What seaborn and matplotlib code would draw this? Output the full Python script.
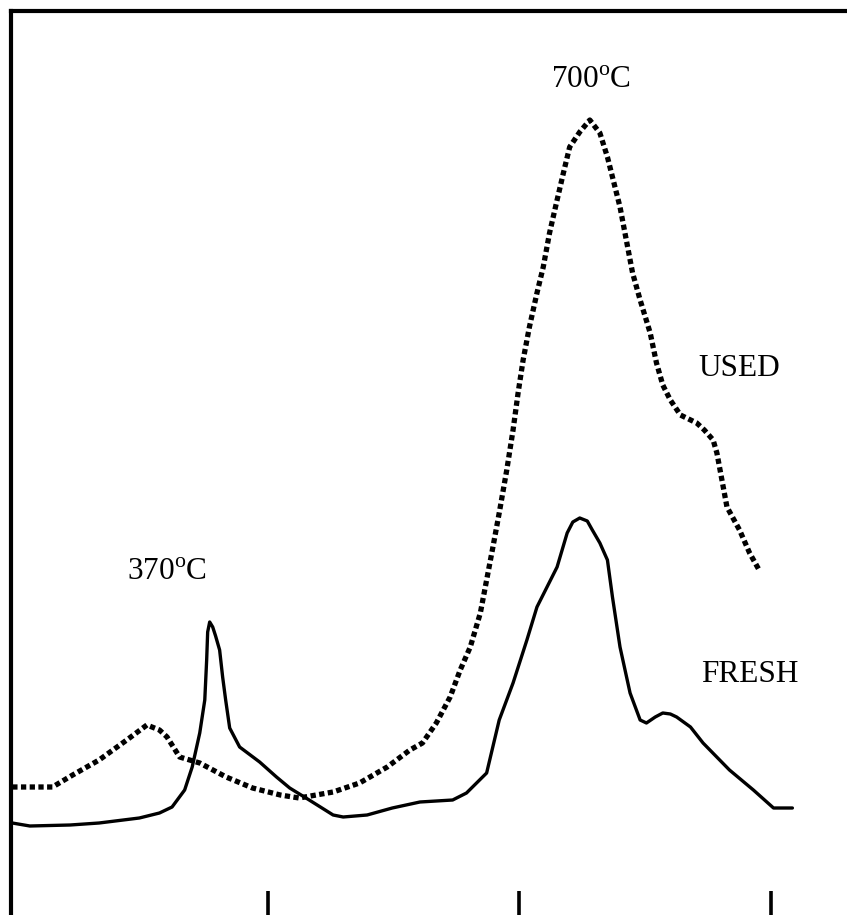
import numpy as np
import pandas as pd
import matplotlib
matplotlib.use("Agg")
import matplotlib.pyplot as plt
import seaborn as sns

# TPR-like profiles, fresh vs used sample
used_temp = [197, 229, 245, 266, 288, 304, 314, 320, 330, 346,
             367, 388, 410, 425, 452, 473, 495, 513, 523, 534,
             545, 553, 561, 569, 574, 579, 584, 590, 595, 599,
             603, 608, 614, 619, 624, 630, 635, 640, 648, 656,
             664, 670, 674, 680, 685, 690, 696, 704, 709, 714,
             720, 728, 741, 747, 754, 757, 761, 765, 775, 783,
             791]
used_signal = [128, 128, 140, 155, 175, 190, 185, 178, 158, 152,
               138, 127, 120, 117, 123, 132, 148, 165, 172, 192,
               218, 245, 268, 302, 335, 368, 402, 445, 485, 522,
               555, 588, 622, 648, 682, 715, 742, 768, 783, 795,
               782, 758, 738, 708, 675, 642, 615, 582, 552, 530,
               515, 500, 492, 485, 475, 462, 435, 408, 385, 362,
               344]

fresh_temp = [197, 211, 243, 266, 298, 314, 324, 334, 340, 346,
              350, 351.5, 352.3, 353.9, 356.3, 358.6, 361.8, 364.2, 366.6, 369.8,
              377.7, 393.6, 407, 417.5, 433, 452, 460, 479, 499, 521,
              547, 558, 574, 584, 595, 606, 614, 622, 630, 638,
              642.5, 648, 654, 658, 664, 670, 674, 680, 688, 696,
              701, 708, 714, 720, 725, 736, 746, 767, 786, 802,
              817]
fresh_signal = [92, 89, 90, 92, 97, 102, 108, 125, 148, 182,
                215, 255, 283, 293, 288, 279, 265, 238, 215, 187,
                168, 153, 138, 127, 115, 100, 98, 100, 107, 113,
                115, 122, 142, 195, 232, 275, 308, 328, 348, 382,
                393, 397, 394, 385, 372, 355, 318, 268, 222, 195,
                192, 198, 202, 201, 198, 188, 172, 145, 125, 107,
                107]

tick_temps = [400, 600, 800]

sns.set_style("white")
plt.rcParams['font.family'] = ['Liberation Serif', 'DejaVu Serif']
plt.rcParams['mathtext.fontset'] = 'custom'
plt.rcParams['mathtext.rm'] = 'Liberation Serif'
plt.rcParams['text.color'] = 'black'

fig = plt.figure(figsize=(8.47, 9.15), dpi=100)
ax = fig.add_axes([11 / 847, 0, 836 / 847, 904 / 915])

used = pd.DataFrame({"T": used_temp, "S": used_signal})
fresh = pd.DataFrame({"T": fresh_temp, "S": fresh_signal})

sns.lineplot(data=used, x="T", y="S", ax=ax, color="black", lw=3.8,
             linestyle=(0, (1, 0.65)), sort=False, estimator=None)
ax.lines[-1].set_dash_capstyle("butt")
sns.lineplot(data=fresh, x="T", y="S", ax=ax, color="black", lw=2.4,
             sort=False, estimator=None)

ax.set_xlim(196, 860.4)
ax.set_ylim(0, 904)

# peak labels and series names
fs = 22.5
ax.text(656.8, 827, r"700$^{\mathrm{o}}$C", ha="center", va="baseline",
        fontsize=fs, color="black")
ax.text(319.7, 335, r"370$^{\mathrm{o}}$C", ha="center", va="baseline",
        fontsize=fs, color="black")
ax.text(774.5, 539, "USED", ha="center", va="baseline", fontsize=fs, color="black")
ax.text(783.3, 233, "FRESH", ha="center", va="baseline", fontsize=fs, color="black")

# frame: only left and top lines, ticks at bottom pointing up
for side in ["right", "bottom"]:
    ax.spines[side].set_visible(False)
for side in ["left", "top"]:
    ax.spines[side].set_linewidth(3)
    ax.spines[side].set_color("black")

ax.set_xticks(tick_temps)
ax.set_yticks([])
ax.tick_params(axis="x", direction="in", length=17, width=2.6, color="black",
               bottom=True, labelbottom=False)
ax.set_xlabel("")
ax.set_ylabel("")

fig.savefig("out.png", dpi=100, facecolor="white")
plt.close(fig)
